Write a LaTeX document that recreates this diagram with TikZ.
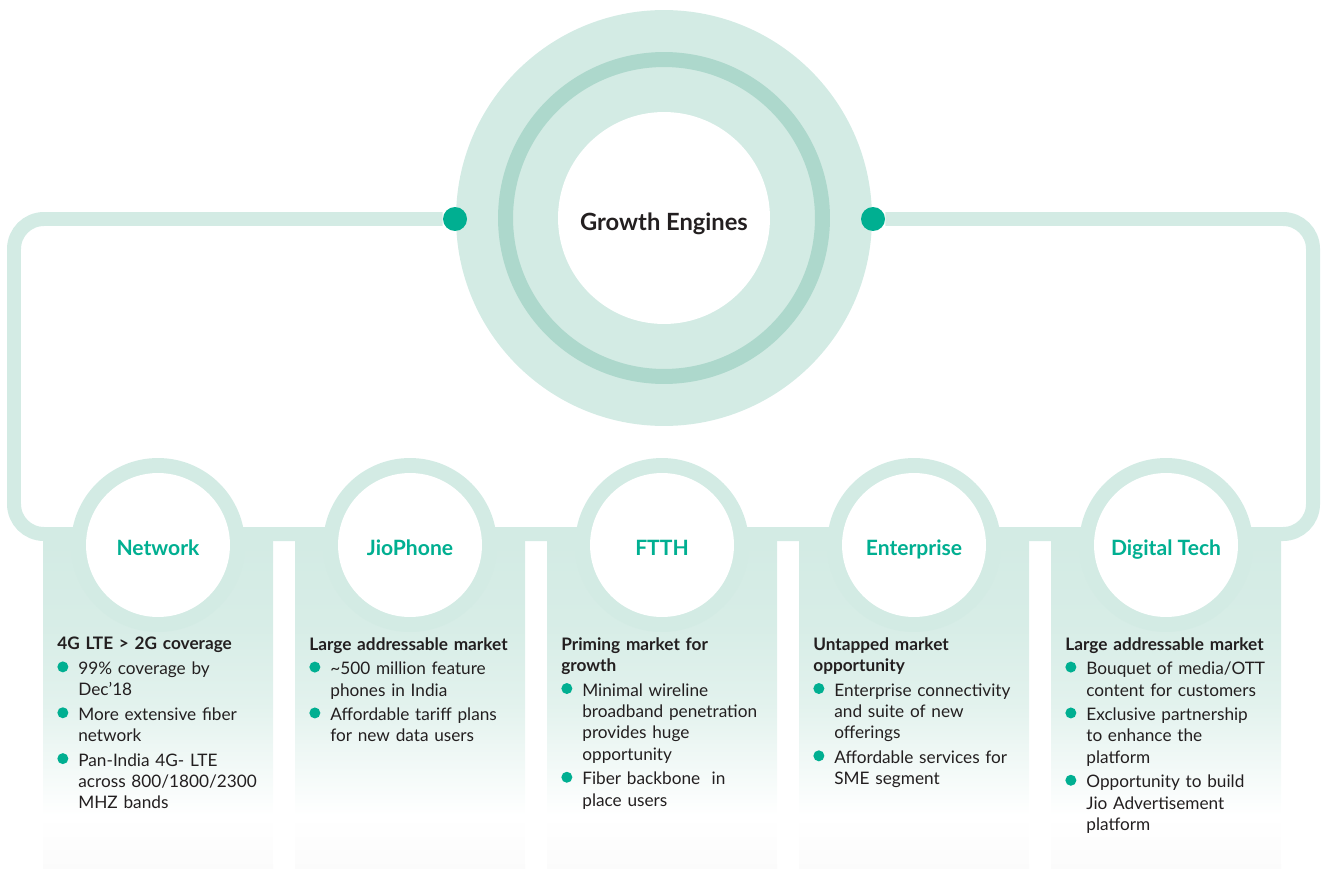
\documentclass[tikz,border=0pt]{standalone}
\usepackage{fontspec}
\setmainfont{Lato}
\usetikzlibrary{positioning}
\definecolor{mint}{HTML}{D3EBE4}
\definecolor{sage}{HTML}{ADD8CC}
\definecolor{jade}{HTML}{00AF91}
\definecolor{ink}{HTML}{231F20}
\pgfdeclareverticalshading{fade}{100bp}{color(0bp)=(black!1.5); color(25bp)=(black!1.5); color(33bp)=(white); color(50bp)=(mint!65); color(62bp)=(mint!90); color(75bp)=(mint); color(100bp)=(mint)}
\newcommand{\gdot}{\tikz[baseline=-0.15cm]\fill[jade] (0,0) circle (0.11cm);}
\newcommand{\head}[1]{\noindent\textbf{#1}\par}
\newcommand{\gitem}[1]{\par\vspace{0.06cm}\noindent\hangindent=0.42cm\hangafter=1\makebox[0.42cm][l]{\gdot}#1\par}
\tikzset{
  hub/.style={circle,fill=white,minimum size=4.24cm,inner sep=0pt,text=ink,
    text height=14.4pt,text depth=0pt,font=\bfseries\fontsize{13.5}{16}\selectfont},
  engine/.style={circle,fill=white,minimum size=2.88cm,inner sep=0pt,text=jade,
    text height=11.4pt,text depth=0pt,font=\bfseries\fontsize{12}{14}\selectfont},
  spot/.style={circle,fill=jade,minimum size=0.48cm,inner sep=0pt},
  band/.style={draw=mint,line width=0.28cm,rounded corners=0.6cm},
  notes/.style={anchor=north west,text width=4.4cm,inner sep=0pt,align=left,text=ink,
    font=\fontsize{9.8}{12.2}\selectfont},
}
\begin{document}
\begin{tikzpicture}[x=0.02cm,y=-0.02cm]
  \useasboundingbox (0,0) rectangle (1327,868);
  % columns under the engines
  \foreach \c in {158,410,662,914,1166}
    \shade[shading=fade] (\c-115,541) rectangle (\c+115,868);
  % central hub
  \fill[mint] (664,218) circle (4.16cm);
  \draw[sage,line width=0.3cm] (664,218) circle (3.17cm);
  \node[hub] (core) at (664,218) {Growth Engines};
  \node[spot] (dotL) at (455,219) {};
  \node[spot] (dotR) at (873,219) {};
  \coordinate (tl) at (14,219); \coordinate (bl) at (14,534);
  \coordinate (br) at (1313,534); \coordinate (tr) at (1313,219);
  \draw[band] (dotL) -- (tl) -- (bl) -- (br) -- (tr) -- (dotR);
  % engines
  \foreach \c in {158,410,662,914,1166}
    \fill[mint] (\c,545) circle (1.74cm);
  \node[engine] (net) at (158,545) {Network};
  \node[engine] (jio) at (410,545) {JioPhone};
  \node[engine] (ftth) at (662,545) {FTTH};
  \node[engine] (ent) at (914,545) {Enterprise};
  \node[engine] (dig) at (1166,545) {Digital Tech};
  % notes
  \node[notes] (netT) at (57,637) {\head{4G LTE > 2G coverage}
    \gitem{99\% coverage by\newline Dec'18}
    \gitem{More extensive fiber\newline network}
    \gitem{Pan-India 4G- LTE\newline across 800/1800/2300\newline MHZ bands}};
  \node[notes] (jioT) at (309,637) {\head{Large addressable market}
    \gitem{\textasciitilde500 million feature\newline phones in India}
    \gitem{Affordable tariff plans\newline for new data users}};
  \node[notes] (ftthT) at (561,637) {\head{Priming market for\newline growth}
    \gitem{Minimal wireline\newline broadband penetration\newline provides huge\newline opportunity}
    \gitem{Fiber backbone\ \ in\newline place users}};
  \node[notes] (entT) at (813,637) {\head{Untapped market\newline opportunity}
    \gitem{Enterprise connectivity\newline and suite of new\newline offerings}
    \gitem{Affordable services for\newline SME segment}};
  \node[notes] (digT) at (1065,637) {\head{Large addressable market}
    \gitem{Bouquet of media/OTT\newline content for customers}
    \gitem{Exclusive partnership\newline to enhance the\newline platform}
    \gitem{Opportunity to build\newline Jio Advertisement\newline platform}};
\end{tikzpicture}
\end{document}
